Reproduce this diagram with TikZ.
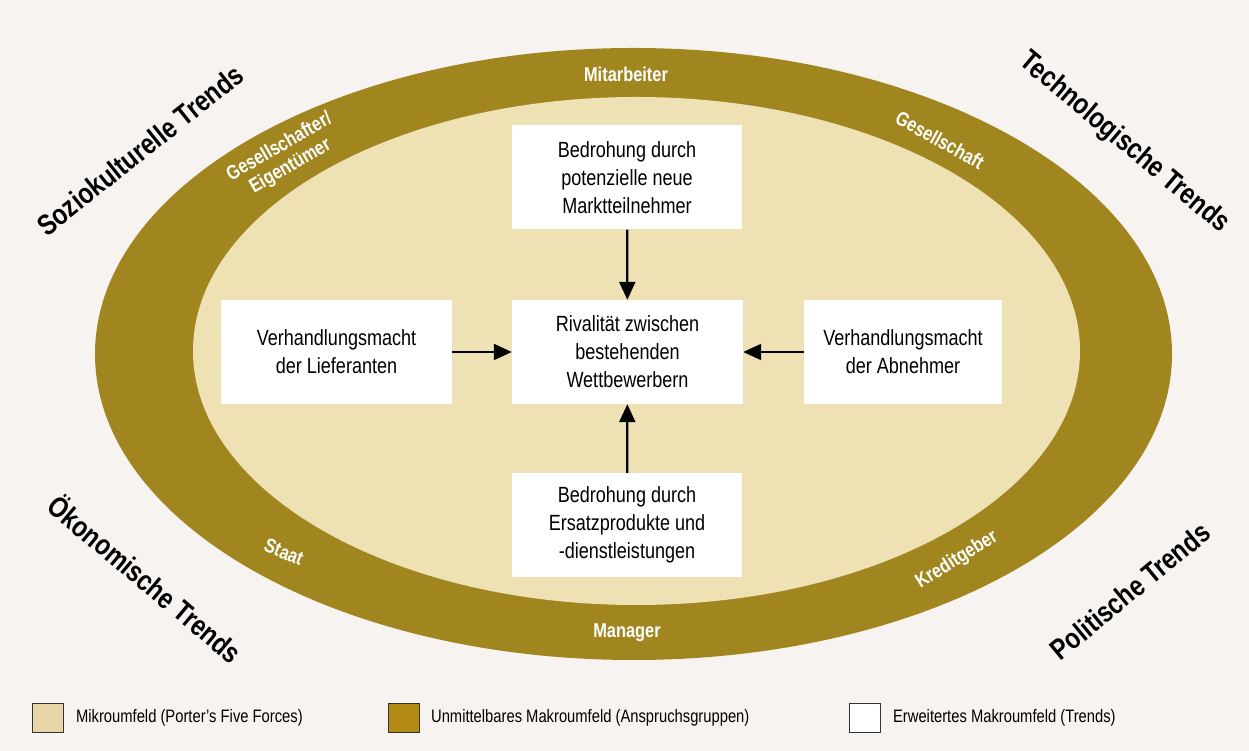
\documentclass[tikz,border=0pt]{standalone}
\usepackage{fontspec}
\setmainfont{Liberation Sans}[FakeStretch=0.82]
\usepackage{tikz}
\usetikzlibrary{arrows.meta}

\definecolor{paper}{RGB}{247,243,241}
\definecolor{ring}{RGB}{161,134,32}
\definecolor{micro}{RGB}{238,226,180}
\definecolor{microkey}{RGB}{231,213,168}
\definecolor{ringkey}{RGB}{178,138,20}

\begin{document}
\begin{tikzpicture}[x=1pt, y=1pt,
  force/.style={fill=white, minimum width=#1, minimum height=104pt, align=center, inner sep=0pt,
    font=\fontsize{22}{28}\selectfont},
  force/.default=231pt,
  push/.style={-{Triangle[length=18pt,width=16pt]}, line width=2.2pt, black},
  group/.style={text=white, align=center, inner sep=0pt, font=\fontsize{20}{22}\selectfont\bfseries},
  trend/.style={inner sep=0pt, font=\fontsize{29}{34}\selectfont\bfseries},
  keybox/.style={draw=black!80, line width=0.8pt, minimum width=31pt, minimum height=29pt, inner sep=0pt},
  keytext/.style={right, inner sep=0pt, font=\fontsize{18}{20}\selectfont}]

\useasboundingbox (0,0) rectangle (1249,751);
\fill[paper] (0,0) rectangle (1249,751);

% the two fields as ellipses
\fill[ring] (633.5,397) ellipse [x radius=538.5, y radius=306];
\fill[micro] (636.5,400) ellipse [x radius=443.5, y radius=254];

%% Porter's five forces
\path
(627.5,399) node[force](rival) {Rivalität zwischen\\bestehenden\\Wettbewerbern}
(627,573.5) node[force=230pt](entrants) {Bedrohung durch\\potenzielle neue\\Marktteilnehmer}
(627,226) node[force=230pt](substitutes) {Bedrohung durch\\Ersatzprodukte und\\-dienstleistungen}
(336.5,399) node[force](suppliers) {Verhandlungsmacht\\der Lieferanten}
(903,399) node[force=198pt](buyers) {Verhandlungsmacht\\der Abnehmer};

\draw[push] (entrants) -- (rival);
\draw[push] (substitutes) -- (rival);
\draw[push] (suppliers) -- (rival);
\draw[push] (buyers) -- (rival);

%% stakeholders on the ring
\path
(626,677) node[group](staff) {Mitarbeiter}
(627,118) node[group](manager) {Manager}
(285,594) node[group, rotate=30](owner) {Gesellschafter/\\Eigentümer}
(940,611) node[group, rotate=-29](society) {Gesellschaft}
(284,199) node[group, rotate=-22](state) {Staat}
(957,191) node[group, rotate=32](lender) {Kreditgeber};

%% trends in the corners
\path
(140,601) node[trend, rotate=38.5](socio) {Soziokulturelle Trends}
(1124,608) node[trend, rotate=-40](tech) {Technologische Trends}
(146,173) node[trend, rotate=-40](eco) {Ökonomische Trends}
(1130,160) node[trend, rotate=39.5](poli) {Politische Trends};

%% legend
\path
(48,33.5) node[keybox, fill=microkey](keymicro) {}
(404,33.5) node[keybox, fill=ringkey](keyring) {}
(865,33.5) node[keybox, fill=white](keytrend) {};
\path (keymicro.east)+(12,0) node[keytext](txtmicro) {Mikroumfeld (Porter’s Five Forces)};
\path (keyring.east)+(11,0) node[keytext](txtring) {Unmittelbares Makroumfeld (Anspruchsgruppen)};
\path (keytrend.east)+(12,0) node[keytext](txttrend) {Erweitertes Makroumfeld (Trends)};

\end{tikzpicture}
\end{document}
